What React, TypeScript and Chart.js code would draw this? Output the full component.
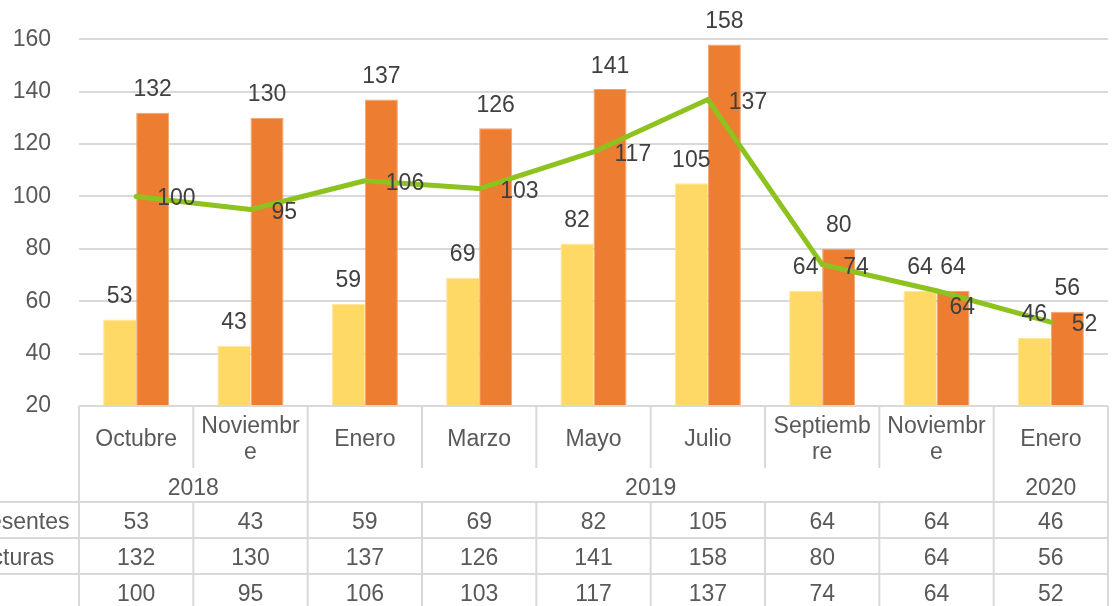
import React, { useEffect, useRef } from "react";
import { Chart, registerables } from "chart.js";

Chart.register(...registerables);

// ---- Data ----
const MONTHS = ["Octubre", "Noviembre", "Enero", "Marzo", "Mayo", "Julio", "Septiembre", "Noviembre", "Enero"];
const YEARS = ["2018", "2019", "2020"];
const YEAR_SPANS = [2, 6, 1];
const ROW_LABELS = ["Presentes", "Lecturas", ""];
const PRESENTES = [53, 43, 59, 69, 82, 105, 64, 64, 46];
const LECTURAS = [132, 130, 137, 126, 141, 158, 80, 64, 56];
const TOTAL = [100, 95, 106, 103, 117, 137, 74, 64, 52];
const Y_TICKS = [20, 40, 60, 80, 100, 120, 140, 160];

const FONT = "'Liberation Sans', Arial, sans-serif";
const GRID = "#d9d9d9";
const TEXT = "#595959";
const LABEL = "#404040";
const YELLOW = "#FFD966";
const ORANGE = "#ED7D31";
const GREEN = "#8DC21F";

const W = 1114;
const H = 606;

const labelsPlugin = {
  id: "valueLabels",
  afterDatasetsDraw(chart: any) {
    const ctx = chart.ctx;
    ctx.save();
    ctx.font = `23px ${FONT}`;
    ctx.fillStyle = LABEL;
    ctx.textBaseline = "alphabetic";
    // bar labels
    [0, 1].forEach((di) => {
      const meta = chart.getDatasetMeta(di);
      const values = chart.data.datasets[di].data;
      meta.data.forEach((el: any, i: number) => {
        ctx.textAlign = "center";
        ctx.fillText(String(values[i]), el.x, el.y - 16.5);
      });
    });
    // line labels
    const meta = chart.getDatasetMeta(2);
    const values = chart.data.datasets[2].data;
    const nudge: Record<number, [number, number]> = { 7: [-8, 14] };
    meta.data.forEach((el: any, i: number) => {
      const n = nudge[i] || [0, 0];
      ctx.textAlign = "left";
      ctx.fillText(String(values[i]), el.x + 21 + n[0], el.y + 9 + n[1]);
    });
    ctx.restore();
  },
};

function wrapText(ctx: CanvasRenderingContext2D, text: string, maxW: number): string[] {
  if (ctx.measureText(text).width <= maxW) return [text];
  let cut = text.length - 1;
  while (cut > 1 && ctx.measureText(text.slice(0, cut)).width > maxW) cut--;
  return [text.slice(0, cut), text.slice(cut)];
}

const tablePlugin = {
  id: "dataTable",
  afterDraw(chart: any) {
    const ctx: CanvasRenderingContext2D = chart.ctx;
    const area = chart.chartArea;
    const left = area.left;
    const right = area.right;
    const n = MONTHS.length;
    const colW = (right - left) / n;
    const top = area.bottom;
    const monthBottom = top + 62;
    const yearBottom = top + 96;
    const rowH = 36;
    const bottom = H + 10;

    ctx.save();
    ctx.strokeStyle = GRID;
    ctx.lineWidth = 2;
    const line = (x1: number, y1: number, x2: number, y2: number) => {
      ctx.beginPath();
      ctx.moveTo(x1, y1);
      ctx.lineTo(x2, y2);
      ctx.stroke();
    };
    line(left, top, right, top);
    line(left, top, left, bottom);
    line(right, top, right, bottom);
    for (let i = 1; i < n; i++) {
      const x = left + i * colW;
      line(x, top, x, monthBottom);
      line(x, yearBottom, x, bottom);
    }
    let acc = 0;
    YEAR_SPANS.forEach((s, gi) => {
      acc += s;
      if (gi < YEAR_SPANS.length - 1) {
        const x = left + acc * colW;
        line(x, monthBottom, x, yearBottom);
      }
    });
    for (let r = 0; r < 3; r++) {
      const y = yearBottom + r * rowH;
      line(0, y, right, y);
    }

    ctx.font = `23px ${FONT}`;
    ctx.fillStyle = TEXT;
    ctx.textAlign = "center";
    ctx.textBaseline = "alphabetic";
    MONTHS.forEach((m, i) => {
      const cx = left + (i + 0.5) * colW;
      const lines = wrapText(ctx, m, colW - 12);
      const lh = 26;
      const cy = (top + monthBottom) / 2;
      const startY = cy - ((lines.length - 1) * lh) / 2;
      lines.forEach((t, li) => ctx.fillText(t, cx, startY + li * lh + 8.5));
    });
    acc = 0;
    YEARS.forEach((yv, gi) => {
      const x1 = left + acc * colW;
      acc += YEAR_SPANS[gi];
      const x2 = left + acc * colW;
      ctx.fillText(yv, (x1 + x2) / 2, (monthBottom + yearBottom) / 2 + 9.5);
    });
    const series = [PRESENTES, LECTURAS, TOTAL];
    series.forEach((vals, r) => {
      const cy = yearBottom + r * rowH + rowH / 2;
      ctx.textAlign = "center";
      vals.forEach((v, i) => {
        const cx = left + (i + 0.5) * colW;
        ctx.fillText(String(v), cx, cy + 8.5);
      });
      ctx.textAlign = "left";
      if (ROW_LABELS[r]) ctx.fillText(ROW_LABELS[r], -34, cy + 8.5);
    });
    ctx.restore();
  },
};

export default function App() {
  const ref = useRef<HTMLCanvasElement | null>(null);
  useEffect(() => {
    document.body.style.margin = "0";
    if (!ref.current) return;
    const chart = new Chart(ref.current, {
      type: "bar",
      data: {
        labels: MONTHS,
        datasets: [
          {
            type: "bar",
            label: ROW_LABELS[0],
            data: PRESENTES,
            backgroundColor: YELLOW,
            borderColor: "#FFE59A",
            borderWidth: { left: 1, right: 0, top: 1, bottom: 0 },
            order: 1,
            categoryPercentage: 0.578,
            barPercentage: 1,
          },
          {
            type: "bar",
            label: ROW_LABELS[1],
            data: LECTURAS,
            backgroundColor: ORANGE,
            borderColor: "#F3A370",
            borderWidth: { left: 1, right: 1, top: 1, bottom: 0 },
            order: 1,
            categoryPercentage: 0.578,
            barPercentage: 1,
          },
          {
            type: "line",
            label: "Total",
            data: TOTAL,
            borderColor: GREEN,
            borderWidth: 5,
            pointRadius: 0,
            tension: 0,
            fill: false,
            borderCapStyle: "round",
            borderJoinStyle: "round",
            order: 0,
          } as any,
        ],
      },
      options: {
        responsive: false,
        animation: false,
        devicePixelRatio: 1,
        layout: { padding: { left: 0, right: 6, top: 0, bottom: H - 406 } },
        plugins: { legend: { display: false }, tooltip: { enabled: false } },
        scales: {
          x: { display: false, offset: true, grid: { display: false } },
          y: {
            min: 20,
            max: 175,
            border: { display: false },
            grid: { color: GRID, lineWidth: 2, drawTicks: false },
            ticks: {
              color: TEXT,
              font: { family: FONT, size: 23 },
              padding: 28,
              includeBounds: false,
            },
            afterBuildTicks: (scale: any) => {
              scale.ticks = Y_TICKS.map((v) => ({ value: v }));
            },
            afterFit: (scale: any) => {
              scale.width = 79;
              scale.paddingTop = 0;
              scale.paddingBottom = 0;
            },
          },
        },
      },
      plugins: [labelsPlugin, tablePlugin],
    } as any);
    return () => chart.destroy();
  }, []);
  return (
    <div style={{ position: "absolute", left: 0, top: 0, width: W, height: H }}>
      <canvas ref={ref} width={W} height={H} style={{ display: "block", width: W, height: H }} />
    </div>
  );
}
